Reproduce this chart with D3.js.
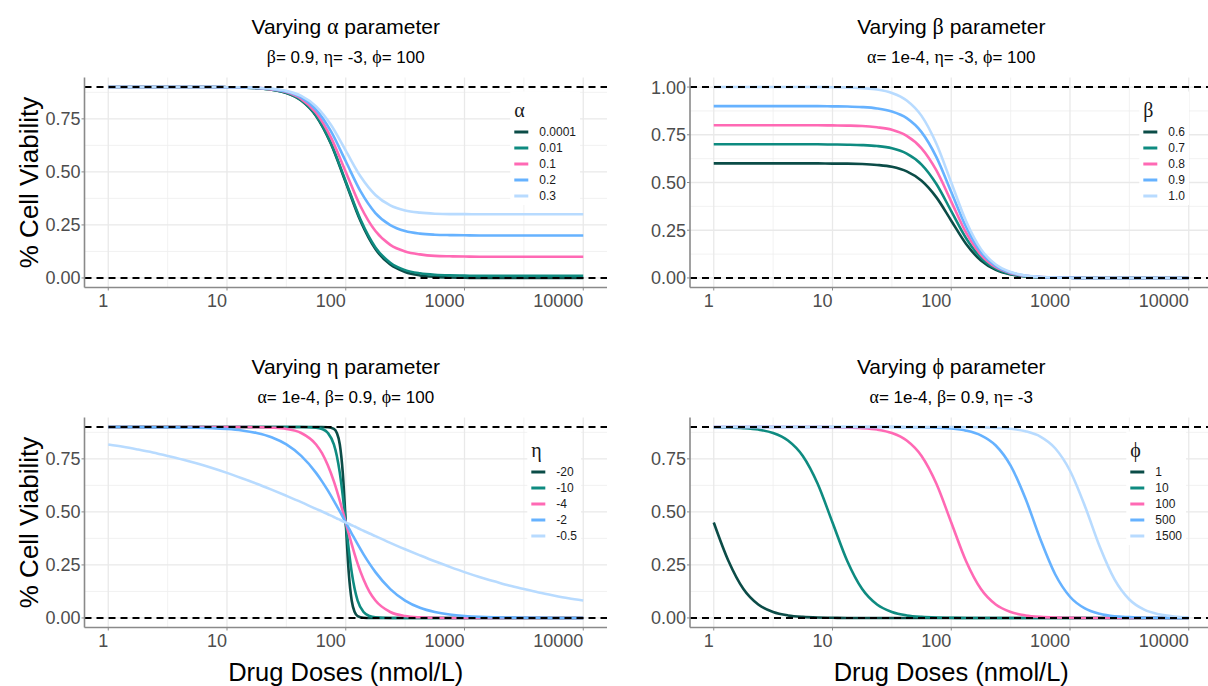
<!DOCTYPE html>
<html><head><meta charset="utf-8">
<script src="https://cdn.jsdelivr.net/npm/d3@7"></script>
<style>
body{margin:0;background:#fff;}
svg{display:block;font-family:"Liberation Sans",Arial,sans-serif;}
</style></head><body>
<svg id="chart" width="1208" height="686"></svg>
<script>
// ---------- data ----------
const doses = [1,1.334,1.778,2.371,3.162,4.217,5.623,7.499,10,13.34,17.78,23.71,31.62,42.17,56.23,74.99,100,133.4,177.8,237.1,316.2,421.7,562.3,749.9,1000,1334,1778,2371,3162,4217,5623,7499,10000];
const etaDoses = [1,1.334,1.778,2.371,3.162,4.217,5.623,7.499,10,13.34,17.78,23.71,31.62,42.17,56.23,63.10,70.79,79.43,84.14,89.13,94.41,100,105.9,112.2,118.9,125.9,141.3,158.5,177.8,237.1,316.2,421.7,562.3,749.9,1000,1334,1778,2371,3162,4217,5623,7499,10000];

const xTicks = [1,10,100,1000,10000];
const xTickLabels = ["1","10","100","1000","10000"];
const yTicks = [0,0.25,0.5,0.75];
const yTicksBeta = [0,0.25,0.5,0.75,1];

// Varying alpha (beta=0.9, eta=-3, phi=100)
const alphaLevels = ["0.0001","0.01","0.1","0.2","0.3"];
const alpha_0001 = [0.900,0.900,0.900,0.900,0.900,0.900,0.900,0.900,0.899,0.898,0.895,0.888,0.872,0.837,0.764,0.633,0.450,0.267,0.136,0.063,0.028,0.012,0.005,0.002,0.001,0.000,0.000,0.000,0.000,0.000,0.000,0.000,0.000];
const alpha_01 = [0.900,0.900,0.900,0.900,0.900,0.900,0.900,0.900,0.899,0.898,0.895,0.888,0.873,0.838,0.766,0.636,0.455,0.274,0.144,0.072,0.037,0.022,0.015,0.012,0.011,0.010,0.010,0.010,0.010,0.010,0.010,0.010,0.010];
const alpha_1 = [0.900,0.900,0.900,0.900,0.900,0.900,0.900,0.900,0.899,0.898,0.896,0.889,0.876,0.844,0.779,0.663,0.500,0.337,0.221,0.156,0.125,0.111,0.104,0.102,0.101,0.100,0.100,0.100,0.100,0.100,0.100,0.100,0.100];
const alpha_2 = [0.900,0.900,0.900,0.900,0.900,0.900,0.900,0.900,0.899,0.898,0.896,0.891,0.879,0.851,0.794,0.692,0.550,0.408,0.306,0.249,0.221,0.209,0.204,0.202,0.201,0.200,0.200,0.200,0.200,0.200,0.200,0.200,0.200];
const alpha_3 = [0.900,0.900,0.900,0.900,0.900,0.900,0.900,0.900,0.899,0.899,0.897,0.892,0.882,0.858,0.809,0.722,0.600,0.478,0.391,0.342,0.318,0.308,0.303,0.301,0.301,0.300,0.300,0.300,0.300,0.300,0.300,0.300,0.300];

// Varying beta (alpha=1e-4, eta=-3, phi=100)
const betaLevels = ["0.6","0.7","0.8","0.9","1.0"];
const beta_06 = [0.600,0.600,0.600,0.600,0.600,0.600,0.600,0.600,0.599,0.599,0.597,0.592,0.582,0.558,0.509,0.422,0.300,0.178,0.091,0.042,0.018,0.008,0.003,0.001,0.001,0.000,0.000,0.000,0.000,0.000,0.000,0.000,0.000];
const beta_07 = [0.700,0.700,0.700,0.700,0.700,0.700,0.700,0.700,0.699,0.698,0.696,0.691,0.679,0.651,0.594,0.492,0.350,0.208,0.106,0.049,0.021,0.009,0.004,0.002,0.001,0.000,0.000,0.000,0.000,0.000,0.000,0.000,0.000];
const beta_08 = [0.800,0.800,0.800,0.800,0.800,0.800,0.800,0.800,0.799,0.798,0.796,0.789,0.776,0.744,0.679,0.563,0.400,0.237,0.121,0.056,0.025,0.011,0.005,0.002,0.001,0.000,0.000,0.000,0.000,0.000,0.000,0.000,0.000];
const beta_09 = [0.900,0.900,0.900,0.900,0.900,0.900,0.900,0.900,0.899,0.898,0.895,0.888,0.872,0.837,0.764,0.633,0.450,0.267,0.136,0.063,0.028,0.012,0.005,0.002,0.001,0.000,0.000,0.000,0.000,0.000,0.000,0.000,0.000];
const beta_10 = [1.000,1.000,1.000,1.000,1.000,1.000,1.000,1.000,0.999,0.998,0.994,0.987,0.969,0.930,0.849,0.703,0.500,0.297,0.151,0.070,0.031,0.013,0.006,0.002,0.001,0.000,0.000,0.000,0.000,0.000,0.000,0.000,0.000];

// Varying eta (alpha=1e-4, beta=0.9, phi=100) on etaDoses
const etaLevels = ["-20","-10","-4","-2","-0.5"];
const eta_20 = [0.900,0.900,0.900,0.900,0.900,0.900,0.900,0.900,0.900,0.900,0.900,0.900,0.900,0.900,0.900,0.900,0.899,0.891,0.872,0.818,0.684,0.450,0.216,0.082,0.028,0.009,0.001,0.000,0.000,0.000,0.000,0.000,0.000,0.000,0.000,0.000,0.000,0.000,0.000,0.000,0.000,0.000,0.000];
const eta_10 = [0.900,0.900,0.900,0.900,0.900,0.900,0.900,0.900,0.900,0.900,0.900,0.900,0.900,0.900,0.897,0.891,0.872,0.818,0.764,0.684,0.576,0.450,0.324,0.216,0.136,0.082,0.028,0.009,0.003,0.000,0.000,0.000,0.000,0.000,0.000,0.000,0.000,0.000,0.000,0.000,0.000,0.000,0.000];
const eta_4 = [0.900,0.900,0.900,0.900,0.900,0.900,0.900,0.900,0.900,0.900,0.899,0.897,0.891,0.872,0.818,0.777,0.719,0.644,0.600,0.552,0.502,0.450,0.398,0.348,0.300,0.256,0.181,0.123,0.082,0.028,0.009,0.003,0.001,0.000,0.000,0.000,0.000,0.000,0.000,0.000,0.000,0.000,0.000];
const eta_2 = [0.900,0.900,0.900,0.899,0.899,0.898,0.897,0.895,0.891,0.884,0.872,0.852,0.818,0.764,0.684,0.644,0.600,0.552,0.527,0.502,0.476,0.450,0.424,0.398,0.373,0.348,0.300,0.256,0.216,0.136,0.082,0.048,0.028,0.016,0.009,0.005,0.003,0.002,0.001,0.001,0.000,0.000,0.000];
const eta_05 = [0.818,0.807,0.794,0.780,0.764,0.747,0.728,0.707,0.684,0.659,0.633,0.605,0.576,0.546,0.514,0.502,0.489,0.476,0.469,0.463,0.456,0.450,0.444,0.437,0.431,0.424,0.411,0.398,0.386,0.354,0.324,0.295,0.267,0.241,0.216,0.193,0.173,0.153,0.136,0.120,0.106,0.093,0.082];

// Varying phi (alpha=1e-4, beta=0.9, eta=-3)
const phiLevels = ["1","10","100","500","1500"];
const phi_1 = [0.450,0.267,0.136,0.063,0.028,0.012,0.005,0.002,0.001,0.000,0.000,0.000,0.000,0.000,0.000,0.000,0.000,0.000,0.000,0.000,0.000,0.000,0.000,0.000,0.000,0.000,0.000,0.000,0.000,0.000,0.000,0.000,0.000];
const phi_10 = [0.899,0.898,0.895,0.888,0.872,0.837,0.764,0.633,0.450,0.267,0.136,0.063,0.028,0.012,0.005,0.002,0.001,0.000,0.000,0.000,0.000,0.000,0.000,0.000,0.000,0.000,0.000,0.000,0.000,0.000,0.000,0.000,0.000];
const phi_100 = [0.900,0.900,0.900,0.900,0.900,0.900,0.900,0.900,0.899,0.898,0.895,0.888,0.872,0.837,0.764,0.633,0.450,0.267,0.136,0.063,0.028,0.012,0.005,0.002,0.001,0.000,0.000,0.000,0.000,0.000,0.000,0.000,0.000];
const phi_500 = [0.900,0.900,0.900,0.900,0.900,0.900,0.900,0.900,0.900,0.900,0.900,0.900,0.900,0.899,0.899,0.897,0.893,0.883,0.861,0.813,0.718,0.563,0.372,0.206,0.100,0.045,0.020,0.008,0.004,0.001,0.001,0.000,0.000];
const phi_1500 = [0.900,0.900,0.900,0.900,0.900,0.900,0.900,0.900,0.900,0.900,0.900,0.900,0.900,0.900,0.900,0.900,0.900,0.899,0.899,0.896,0.892,0.880,0.855,0.800,0.694,0.528,0.337,0.182,0.087,0.039,0.017,0.007,0.003];

const seriesColors = ["#0B4C47","#0E8B80","#FF69B4","#66B2FF","#B8DBFF"];

// ---------- layout ----------
const cols = [{x0:84.5,x1:607},{x0:690,x1:1212.5}];
const rows = [{y0:77.5,y1:287.5},{y0:417.5,y1:627.5}];

const panels = [
  {col:0,row:0,title:"Varying α parameter",sub:"β= 0.9, η= -3, ϕ= 100",legendTitle:"α",levels:alphaLevels,
   series:[alpha_0001,alpha_01,alpha_1,alpha_2,alpha_3],x:doses,ymax:0.9,hlines:[0,0.9],yt:yTicks,labelRight:576},
  {col:1,row:0,title:"Varying β parameter",sub:"α= 1e-4, η= -3, ϕ= 100",legendTitle:"β",levels:betaLevels,
   series:[beta_06,beta_07,beta_08,beta_09,beta_10],x:doses,ymax:1.0,hlines:[0,1],yt:yTicksBeta,labelRight:1185},
  {col:0,row:1,title:"Varying η parameter",sub:"α= 1e-4, β= 0.9, ϕ= 100",legendTitle:"η",levels:etaLevels,
   series:[eta_20,eta_10,eta_4,eta_2,eta_05],x:etaDoses,ymax:0.9,hlines:[0,0.9],yt:yTicks,labelRight:577},
  {col:1,row:1,title:"Varying ϕ parameter",sub:"α= 1e-4, β= 0.9, η= -3",legendTitle:"ϕ",levels:phiLevels,
   series:[phi_1,phi_10,phi_100,phi_500,phi_1500],x:doses,ymax:0.9,hlines:[0,0.9],yt:yTicks,labelRight:1182}
];

const svg = d3.select("#chart");
const greekRe = /([\u0370-\u03FF])/;
const serif = "'Liberation Serif','DejaVu Serif',serif";
function richText(sel, str, size){
  str.split(greekRe).filter(s=>s.length).forEach(s=>{
    const t = sel.append("tspan").text(s);
    if (greekRe.test(s)) t.attr("font-family", serif).attr("font-size", size*1.05);
  });
}

const lx0 = Math.log10(xTicks[0]), lx1 = Math.log10(xTicks[xTicks.length-1]);
const lpad = (lx1-lx0)*0.05;

panels.forEach(p=>{
  const C = cols[p.col], R = rows[p.row];
  const g = svg.append("g");
  const xs = d3.scaleLog().domain([Math.pow(10,lx0-lpad), Math.pow(10,lx1+lpad)]).range([C.x0, C.x1]);
  const ys = d3.scaleLinear().domain([-0.05*p.ymax, p.ymax*1.05]).range([R.y1, R.y0]);

  // minor grid
  const step = p.yt[1]-p.yt[0];
  const yMinor = [];
  for (let v = p.yt[0]-step/2; v <= ys.domain()[1]; v += step) if (v >= ys.domain()[0]) yMinor.push(v);
  const xMinor = [];
  for (let k = -1; k <= 4; k++){ const v = Math.pow(10,k+0.5); if (v>=xs.domain()[0] && v<=xs.domain()[1]) xMinor.push(v); }
  g.selectAll(".ymin").data(yMinor).join("line")
    .attr("x1",C.x0).attr("x2",C.x1).attr("y1",d=>ys(d)).attr("y2",d=>ys(d))
    .attr("stroke","#efefef").attr("stroke-width",0.8);
  g.selectAll(".xmin").data(xMinor).join("line")
    .attr("y1",R.y0).attr("y2",R.y1).attr("x1",d=>xs(d)).attr("x2",d=>xs(d))
    .attr("stroke","#efefef").attr("stroke-width",0.8);
  // major grid
  g.selectAll(".ymaj").data(p.yt).join("line")
    .attr("x1",C.x0).attr("x2",C.x1).attr("y1",d=>ys(d)).attr("y2",d=>ys(d))
    .attr("stroke","#e9e9e9").attr("stroke-width",1.3);
  g.selectAll(".xmaj").data(xTicks).join("line")
    .attr("y1",R.y0).attr("y2",R.y1).attr("x1",d=>xs(d)).attr("x2",d=>xs(d))
    .attr("stroke","#e9e9e9").attr("stroke-width",1.3);

  // curves
  const line = d3.line().defined(d=>d[1]!=null).x(d=>xs(d[0])).y(d=>ys(d[1])).curve(d3.curveMonotoneX);
  p.series.forEach((vals,i)=>{
    g.append("path").datum(p.x.map((d,j)=>[d,vals[j]]))
      .attr("d",line).attr("fill","none").attr("stroke",seriesColors[i])
      .attr("stroke-width",2.6).attr("stroke-linejoin","round");
  });

  // dashed reference lines
  g.selectAll(".hl").data(p.hlines).join("line")
    .attr("x1",C.x0).attr("x2",C.x1).attr("y1",d=>ys(d)).attr("y2",d=>ys(d))
    .attr("stroke","#000").attr("stroke-width",2.1).attr("stroke-dasharray","7,5");

  // axes lines
  g.append("line").attr("x1",C.x0).attr("x2",C.x0).attr("y1",R.y0).attr("y2",R.y1)
    .attr("stroke","#8a8a8a").attr("stroke-width",1.6);
  g.append("line").attr("x1",C.x0).attr("x2",C.x1).attr("y1",R.y1).attr("y2",R.y1)
    .attr("stroke","#8a8a8a").attr("stroke-width",1.6);
  // ticks
  g.selectAll(".yt").data(p.yt).join("line")
    .attr("x1",C.x0-3).attr("x2",C.x0).attr("y1",d=>ys(d)).attr("y2",d=>ys(d))
    .attr("stroke","#8a8a8a").attr("stroke-width",1);
  g.selectAll(".xt").data(xTicks).join("line")
    .attr("y1",R.y1).attr("y2",R.y1+3).attr("x1",d=>xs(d)).attr("x2",d=>xs(d))
    .attr("stroke","#8a8a8a").attr("stroke-width",1);
  g.selectAll(".ytl").data(p.yt).join("text")
    .attr("x",C.x0-4).attr("y",d=>ys(d)).attr("dy","0.36em").attr("text-anchor","end")
    .attr("font-size",18).attr("fill","#4d4d4d").text(d=>d3.format(".2f")(d));
  g.selectAll(".xtl").data(xTicks).join("text")
    .attr("x",d=>xs(d)).attr("y",R.y1+19.5).attr("text-anchor","end")
    .attr("font-size",18).attr("fill","#4d4d4d").text((d,i)=>xTickLabels[i]);

  // titles
  const cx = (C.x0+C.x1)/2;
  richText(g.append("text").attr("x",cx).attr("y",R.y0-43.2).attr("text-anchor","middle")
    .attr("font-size",21).attr("fill","#000"), p.title, 21);
  richText(g.append("text").attr("x",cx).attr("y",R.y0-14.8).attr("text-anchor","middle")
    .attr("font-size",17).attr("fill","#000"), p.sub, 17);

  // legend
  const lg = svg.append("g");
  const bg = lg.append("rect").attr("fill","#fff");
  const labels = lg.selectAll(".ll").data(p.levels).join("text")
    .attr("y",(d,i)=>R.y0+54.5+16*i).attr("dy","0.36em")
    .attr("font-size",12).attr("fill","#1a1a1a").text(d=>d);
  let maxW = 0; labels.each(function(){ maxW = Math.max(maxW, this.getComputedTextLength()); });
  const labelX = p.labelRight - maxW;
  labels.attr("x",labelX);
  const keyX0 = labelX-25, keyX1 = labelX-11;
  lg.selectAll(".lk").data(p.levels).join("line")
    .attr("x1",keyX0).attr("x2",keyX1).attr("y1",(d,i)=>R.y0+54.5+16*i).attr("y2",(d,i)=>R.y0+54.5+16*i)
    .attr("stroke",(d,i)=>seriesColors[i]).attr("stroke-width",3);
  lg.append("text").attr("x",keyX0).attr("y",R.y0+39).attr("font-family",serif)
    .attr("font-size",20).attr("fill","#1a1a1a").text(p.legendTitle);
  bg.attr("x",keyX0-4).attr("y",R.y0+14).attr("width",p.labelRight+4-(keyX0-4)).attr("height",113.5);
});

// axis titles
rows.forEach(R=>{
  svg.append("text").attr("transform",`translate(38,${(R.y0+R.y1)/2}) rotate(-90)`)
    .attr("text-anchor","middle").attr("font-size",26).attr("fill","#000").text("% Cell Viability");
});
cols.forEach(C=>{
  svg.append("text").attr("x",(C.x0+C.x1)/2).attr("y",681).attr("text-anchor","middle")
    .attr("font-size",25.5).attr("fill","#000").text("Drug Doses (nmol/L)");
});
</script>
</body></html>
